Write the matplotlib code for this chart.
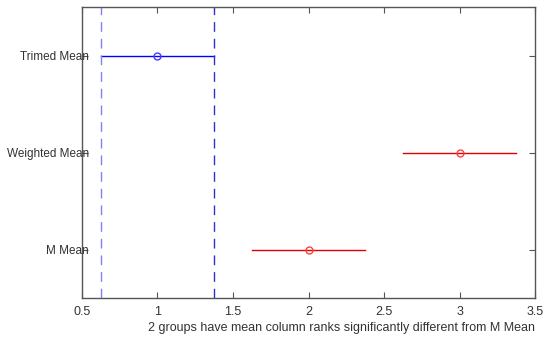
import numpy as np
import matplotlib
matplotlib.use("Agg")
import matplotlib.pyplot as plt

plt.rcParams['font.family'] = ['Liberation Sans', 'DejaVu Sans']

groups = ["M Mean", "Weighted Mean", "Trimed Mean"]
means = [2.0, 3.0, 1.0]
half_width = [0.375, 0.375, 0.375]
colors = ["#e00000", "#e00000", "#0000ff"]
marker_colors = ["#ff4040", "#ff4040", "#4040ff"]
ref_lo = 0.625
ref_hi = 1.375
xlabel = "2 groups have mean column ranks significantly different from M Mean"

fig = plt.figure(figsize=(5.5, 3.39), dpi=100)
ax = fig.add_axes([0.149, 0.121, 0.824, 0.858])

ypos = np.arange(1, len(groups) + 1)
for y, m, h, c, mc in zip(ypos, means, half_width, colors, marker_colors):
    ax.plot([m - h, m + h], [y, y], color=c, lw=1.0)
    ax.plot(m, y, 'o', mfc='none', mec=mc, ms=5, mew=1.0)

ax.axvline(ref_lo, color="#8080ff", ls=(0, (7, 5)), lw=1.0)
ax.axvline(ref_hi, color="#3030d0", ls=(0, (7, 5)), lw=1.0)

ax.set_xlim(0.5, 3.5)
ax.set_ylim(0.5, 3.5)
ax.set_xticks(np.arange(0.5, 3.51, 0.5))
ax.set_xticklabels(["0.5", "1", "1.5", "2", "2.5", "3", "3.5"])
ax.set_yticks(ypos)
ax.set_yticklabels(groups)

for s in ax.spines.values():
    s.set_color("#555555")
    s.set_linewidth(1.0)
ax.tick_params(direction='in', length=4, color="#555555", labelcolor="#333333",
               labelsize=9, top=True, right=True)
ax.tick_params(axis='y', pad=-5, labelsize=8.5)
ax.tick_params(axis='x', pad=6)
ax.set_xlabel(xlabel, fontsize=9, color="#333333", labelpad=3, loc='right')

fig.savefig("out.png", dpi=100)
